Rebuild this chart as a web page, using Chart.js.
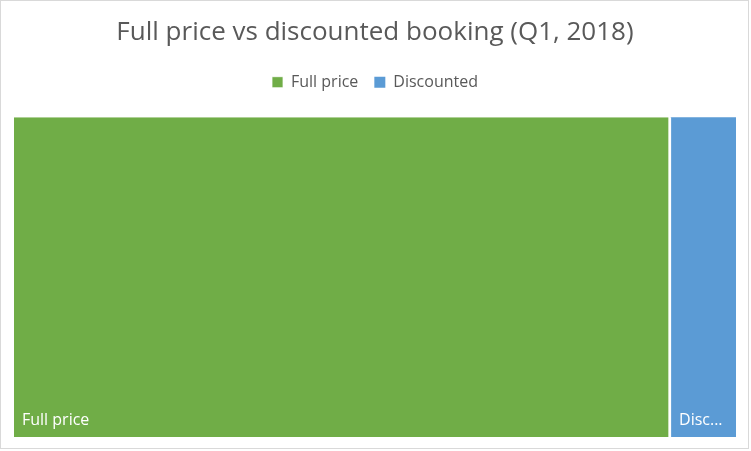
<!DOCTYPE html>
<html><head><meta charset="utf-8">
<script src="https://cdn.jsdelivr.net/npm/chart.js@4"></script>
<style>html,body{margin:0;padding:0;background:#fff;}#wrap{width:751px;height:451px;position:relative;}</style>
</head><body><div id="wrap"><canvas id="c" width="751" height="451"></canvas></div>
<script>
const categories = ["Q1, 2018"];
const seriesNames = ["Full price", "Discounted"];
const fullPrice = [91];
const discounted = [9];
const colors = ["#70AD47", "#5B9BD5"];

const FONT = "'Open Sans', 'Noto Sans', sans-serif";

const borderPlugin = {
  id: 'outerBorder',
  beforeDraw(chart) {
    const ctx = chart.ctx;
    ctx.save();
    ctx.fillStyle = '#fff';
    ctx.fillRect(0, 0, chart.width, chart.height);
    ctx.strokeStyle = '#d9d9d9';
    ctx.lineWidth = 1;
    ctx.strokeRect(0.5, 0.5, 748, 448);
    ctx.restore();
  }
};

const legendMargin = {
  id: 'legendMargin',
  beforeInit(chart) {
    const orig = chart.legend.fit;
    chart.legend.fit = function () { orig.bind(chart.legend)(); this.height += 17; };
  }
};

const labelPlugin = {
  id: 'rectLabels',
  afterDatasetsDraw(chart) {
    const ctx = chart.ctx;
    ctx.save();
    ctx.font = "16px " + FONT;
    ctx.fillStyle = '#ffffff';
    ctx.textBaseline = 'alphabetic';
    chart.data.datasets.forEach((ds, i) => {
      const meta = chart.getDatasetMeta(i);
      meta.data.forEach(el => {
        const left = Math.min(el.base, el.x);
        const right = Math.max(el.base, el.x);
        const bottom = el.y + el.height / 2;
        const avail = right - left - 3 - 14;
        let txt = ds.label;
        if (ctx.measureText(txt).width > avail) {
          let n = txt.length;
          while (n > 0 && ctx.measureText(txt.slice(0, n) + '...').width > avail) n--;
          txt = txt.slice(0, n) + '...';
        }
        ctx.fillText(txt, left + 8, bottom - 12);
      });
    });
    ctx.restore();
  }
};

new Chart(document.getElementById('c'), {
  type: 'bar',
  data: {
    labels: categories,
    datasets: [
      { label: seriesNames[0], data: fullPrice, backgroundColor: colors[0], borderColor: '#ffffff', borderWidth: { right: 3, left: 0, top: 0, bottom: 0 }, borderSkipped: false, barPercentage: 1, categoryPercentage: 1 },
      { label: seriesNames[1], data: discounted, backgroundColor: colors[1], borderWidth: 0, barPercentage: 1, categoryPercentage: 1 }
    ]
  },
  options: {
    indexAxis: 'y',
    responsive: false,
    animation: false,
    layout: { padding: { left: 14, right: 15, bottom: 14, top: 0 } },
    scales: {
      x: { stacked: true, display: false, min: 0, max: fullPrice[0] + discounted[0] },
      y: { stacked: true, display: false }
    },
    plugins: {
      tooltip: { enabled: false },
      title: { display: true, text: 'Full price vs discounted booking (Q1, 2018)', color: '#595959', font: { family: FONT, size: 26, weight: 'normal' }, padding: { top: 17, bottom: 10 } },
      legend: { display: true, labels: { color: '#595959', font: { family: FONT, size: 16 }, boxWidth: 11, boxHeight: 11, padding: 16 } }
    }
  },
  plugins: [borderPlugin, legendMargin, labelPlugin]
});
</script></body></html>
